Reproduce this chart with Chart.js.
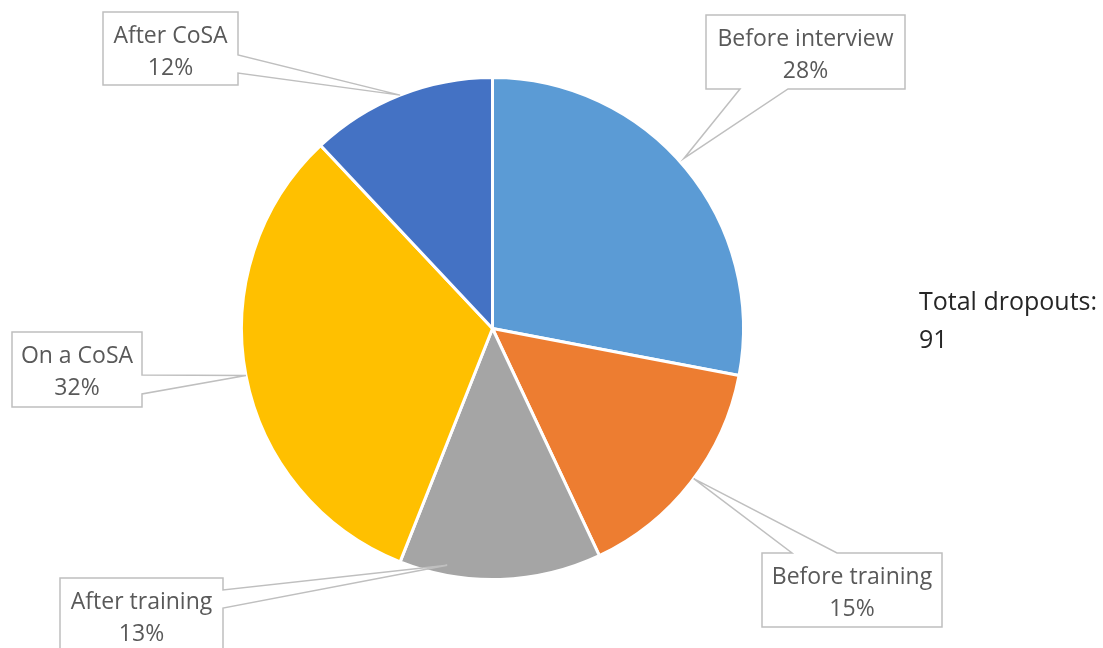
<!DOCTYPE html>
<html>
<head>
<meta charset="utf-8">
<script src="https://cdn.jsdelivr.net/npm/chart.js@4"></script>
<style>
  html, body { margin: 0; padding: 0; background: #fff; }
  #wrap { width: 1103px; height: 648px; position: relative; }
</style>
</head>
<body>
<div id="wrap"><canvas id="pie"></canvas></div>
<script>
const stages = ["Before interview", "Before training", "After training", "On a CoSA", "After CoSA"];
const shares = [28, 15, 13, 32, 12];
const colors = ["#5B9BD5", "#ED7D31", "#A5A5A5", "#FFC000", "#4472C4"];
const totalDropouts = 91;

// callout boxes: box rect, which side the pointer leaves from, where on the slice it points
const callouts = [
  { x: 706, y: 15, w: 199, h: 74, side: "bottom", a: 34, b: 82, along: 0.48, r: 1.02 },
  { x: 762, y: 553, w: 180, h: 74, side: "top", a: 30, b: 75, along: 0.48, r: 1.0 },
  { x: 60, y: 578, w: 163, h: 80, side: "right", a: 12, b: 30, along: 0.77, r: 0.96 },
  { x: 12, y: 332, w: 130, h: 75, side: "right", a: 43, b: 62, along: 0.5, r: 1.0 },
  { x: 103, y: 12, w: 135, h: 73, side: "right", a: 43, b: 61, along: 0.5, r: 1.0 }
];

const FONT = "'Open Sans', sans-serif";

const calloutPlugin = {
  id: "callouts",
  afterDraw(chart) {
    const ctx = chart.ctx;
    const arcs = chart.getDatasetMeta(0).data;
    const total = shares.reduce((s, v) => s + v, 0);
    ctx.save();
    callouts.forEach((c, i) => {
      const arc = arcs[i];
      const ang = arc.startAngle + (arc.endAngle - arc.startAngle) * c.along;
      const tx = arc.x + Math.cos(ang) * arc.outerRadius * c.r;
      const ty = arc.y + Math.sin(ang) * arc.outerRadius * c.r;
      const { x, y, w, h } = c;
      ctx.beginPath();
      ctx.moveTo(x, y);
      if (c.side === "top") {
        ctx.lineTo(x + c.a, y); ctx.lineTo(tx, ty); ctx.lineTo(x + c.b, y);
      }
      ctx.lineTo(x + w, y);
      if (c.side === "right") {
        ctx.lineTo(x + w, y + c.a); ctx.lineTo(tx, ty); ctx.lineTo(x + w, y + c.b);
      }
      ctx.lineTo(x + w, y + h);
      if (c.side === "bottom") {
        ctx.lineTo(x + c.b, y + h); ctx.lineTo(tx, ty); ctx.lineTo(x + c.a, y + h);
      }
      ctx.lineTo(x, y + h);
      ctx.closePath();
      ctx.fillStyle = "#fff";
      ctx.fill();
      ctx.strokeStyle = "#BFBFBF";
      ctx.lineWidth = 1.5;
      ctx.stroke();

      ctx.fillStyle = "#595959";
      ctx.font = "23px " + FONT;
      ctx.textAlign = "center";
      ctx.textBaseline = "middle";
      const pct = Math.round(shares[i] / total * 100) + "%";
      ctx.fillText(stages[i], x + w / 2, y + 24);
      ctx.fillText(pct, x + w / 2, y + 56);
    });
    ctx.fillStyle = "#262626";
    ctx.font = "25px " + FONT;
    ctx.textAlign = "left";
    ctx.textBaseline = "middle";
    ctx.fillText("Total dropouts:", 919, 303);
    ctx.fillText(String(totalDropouts), 919, 341);
    ctx.restore();
  }
};

new Chart(document.getElementById("pie"), {
  type: "pie",
  data: {
    labels: stages,
    datasets: [{
      data: shares,
      backgroundColor: colors,
      borderColor: "#fff",
      borderWidth: 3
    }]
  },
  options: {
    responsive: true,
    maintainAspectRatio: false,
    animation: false,
    layout: { padding: { left: 240, right: 358, top: 75, bottom: 66 } },
    plugins: {
      legend: { display: false },
      tooltip: { enabled: false }
    }
  },
  plugins: [calloutPlugin]
});
</script>
</body>
</html>
